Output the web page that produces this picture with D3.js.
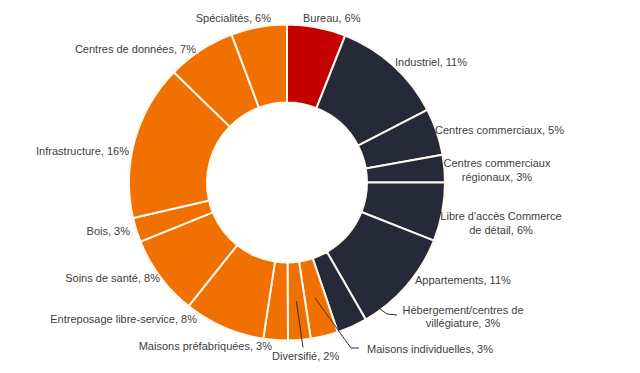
<!DOCTYPE html>
<html>
<head>
<meta charset="utf-8">
<script src="https://cdn.jsdelivr.net/npm/d3@7"></script>
<style>
  html, body { margin: 0; padding: 0; background: #ffffff; }
  svg { display: block; }
  text { font-family: "Liberation Sans", Arial, sans-serif; font-size: 11px; fill: #404040; }
</style>
</head>
<body>
<svg id="chart" width="640" height="373"></svg>
<script>
// ---- data ----
const categories = [
  "Bureau", "Industriel", "Centres commerciaux", "Centres commerciaux régionaux",
  "Libre d'accès Commerce de détail", "Appartements", "Hébergement/centres de villégiature",
  "Maisons individuelles", "Diversifié", "Maisons préfabriquées", "Entreposage libre-service",
  "Soins de santé", "Bois", "Infrastructure", "Centres de données", "Spécialités"
];
const values = [6.0, 11.4, 4.8, 2.8, 6.0, 10.7, 3.1, 2.8, 2.3, 2.5, 8.3, 8.2, 2.5, 15.9, 7.0, 5.7];
const groups = ["bureau", "dark", "dark", "dark", "dark", "dark", "dark",
                "orange", "orange", "orange", "orange", "orange", "orange", "orange", "orange", "orange"];
const labelLines = [
  ["Bureau, 6%"], ["Industriel, 11%"], ["Centres commerciaux, 5%"],
  ["Centres commerciaux", "régionaux, 3%"], ["Libre d'accès Commerce", "de détail, 6%"],
  ["Appartements, 11%"], ["Hébergement/centres de", "villégiature, 3%"],
  ["Maisons individuelles, 3%"], ["Diversifié, 2%"], ["Maisons préfabriquées, 3%"],
  ["Entreposage libre-service, 8%"], ["Soins de santé, 8%"], ["Bois, 3%"],
  ["Infrastructure, 16%"], ["Centres de données, 7%"], ["Spécialités, 6%"]
];

// ---- layout / style ----
const cx = 287, cy = 182.5, outerR = 158, innerR = 80;
const colorScale = d3.scaleOrdinal()
  .domain(["bureau", "dark", "orange"])
  .range(["#c40000", "#252938", "#f07000"]);

// label placement relative to chart centre: [dx, dy, anchor]
const labelLayout = [
  [16, -165, "start"], [108, -121, "start"], [148, -53, "start"],
  [210, -12.5, "middle"], [214, 40.5, "middle"], [128, 97, "start"],
  [176, 134, "middle"], [80, 166, "start"], [-15, 173, "start"],
  [-15, 163, "end"], [-90, 136, "end"], [-127, 95, "end"],
  [-157, 48, "end"], [-158, -32, "end"], [-91, -134, "end"], [-16, -165, "end"]
];
// leader lines: index -> extra points relative to centre (start is slice centroid unless given)
const leaders = {
  6: {start: [93, 126.5], pts: [[100, 131.5], [110, 132.5]]},
  7: {pts: [[64, 165.5], [72, 165.5]]},
  8: {pts: [[16, 165]]}
};

const svg = d3.select("#chart");
const g = svg.append("g").attr("transform", `translate(${cx},${cy})`);

const data = categories.map((c, i) => ({name: c, value: values[i], group: groups[i], lines: labelLines[i]}));
const pie = d3.pie().sort(null).value(d => d.value).startAngle(0).endAngle(2 * Math.PI);
const arcs = pie(data);
const arc = d3.arc().innerRadius(innerR).outerRadius(outerR);

g.selectAll("path.slice")
  .data(arcs)
  .join("path")
  .attr("class", "slice")
  .attr("d", arc)
  .attr("fill", d => colorScale(d.data.group))
  .attr("stroke", "#fff8ee")
  .attr("stroke-width", 2)
  .attr("stroke-linejoin", "round");

// leader lines
arcs.forEach((a, i) => {
  const L = leaders[i];
  if (!L) return;
  const start = L.start ? L.start : arc.centroid(a);
  const pts = [start].concat(L.pts);
  g.append("path")
    .attr("d", d3.line()(pts))
    .attr("fill", "none")
    .attr("stroke", "#333333")
    .attr("stroke-width", 1);
});

// labels
const lineH = 13.5;
arcs.forEach((a, i) => {
  const [dx, dy, anchor] = labelLayout[i];
  const lines = a.data.lines;
  const t = g.append("text")
    .attr("text-anchor", anchor)
    .attr("x", dx)
    .attr("y", dy);
  lines.forEach((ln, k) => {
    t.append("tspan")
      .attr("x", dx)
      .attr("y", dy + (k - (lines.length - 1) / 2) * lineH)
      .attr("dominant-baseline", "central")
      .text(ln);
  });
});
</script>
</body>
</html>
